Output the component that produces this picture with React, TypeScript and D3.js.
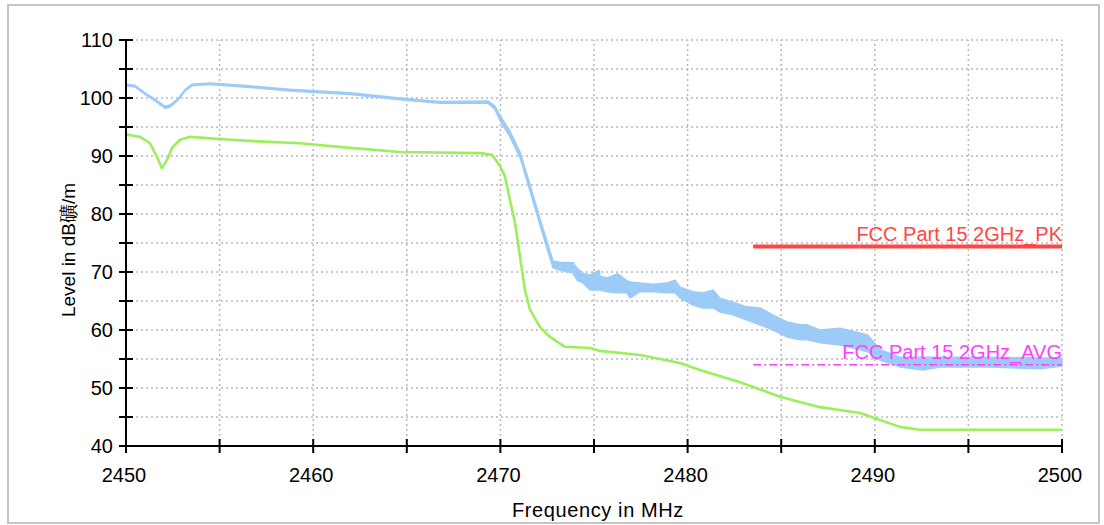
import * as d3 from "d3";
import * as React from "react";

const blueFreq = [
  2450.0, 2450.48, 2451.02, 2451.55, 2452.08, 2452.35, 2452.78, 2453.16,
  2453.53, 2454.49, 2456.62, 2458.76, 2461.97, 2464.64, 2466.77, 2469.34,
  2469.71, 2469.98, 2470.51, 2471.05, 2471.58, 2472.12, 2472.54, 2472.81,
  2473.18, 2473.88, 2474.09, 2474.41, 2474.79, 2475.27, 2475.32, 2475.69,
  2476.28, 2476.76, 2476.92, 2477.46, 2478.15, 2478.9, 2479.33, 2479.59,
  2480.29, 2480.82, 2481.36, 2481.73, 2482.43, 2483.17, 2483.87, 2484.56,
  2485.31, 2486.0, 2486.38, 2487.07, 2488.14, 2489.21, 2489.64, 2490.28,
  2491.35, 2492.58, 2493.48, 2496.15, 2498.83, 2500.0,
];
// peak trace: upper and lower edge of the band (dBuV/m)
const blueHi = [
  102.4, 102.2, 100.9, 99.8, 98.6, 98.8, 99.9, 101.5, 102.4, 102.6, 102.1,
  101.5, 100.9, 100.0, 99.4, 99.5, 98.6, 97.0, 94.3, 90.7, 85.1, 79.2, 74.8,
  71.9, 71.7, 71.6, 70.7, 69.8, 69.5, 70.3, 69.3, 69.0, 69.7, 68.5, 68.3, 68.1,
  67.9, 68.1, 68.6, 67.4, 66.6, 66.4, 66.9, 65.5, 64.8, 64.0, 63.8, 62.6, 61.4,
  60.9, 60.9, 60.0, 60.3, 59.5, 59.1, 56.6, 55.3, 55.3, 55.3, 55.3, 55.2, 55.2,
];
const blueLo = [
  102.1, 101.9, 100.6, 99.5, 98.2, 98.4, 99.6, 101.2, 102.1, 102.3, 101.8,
  101.2, 100.6, 99.7, 99.1, 99.1, 98.0, 96.1, 93.3, 89.7, 83.9, 78.0, 73.5,
  70.7, 70.3, 69.8, 68.6, 68.1, 66.9, 66.9, 66.9, 66.6, 66.4, 66.4, 65.5, 66.6,
  66.6, 66.4, 66.4, 65.5, 64.3, 63.8, 63.8, 63.1, 62.6, 61.7, 60.9, 60.0, 58.8,
  58.3, 58.3, 57.8, 57.4, 56.6, 56.2, 54.8, 53.6, 53.1, 53.6, 53.6, 53.3, 53.8,
];

// average trace
const greenFreq = [
  2450.0, 2450.75, 2451.28, 2451.66, 2451.92, 2452.19, 2452.46, 2452.88,
  2453.42, 2455.56, 2456.62, 2459.29, 2461.97, 2464.64, 2468.91, 2469.55,
  2469.98, 2470.25, 2470.51, 2470.78, 2471.05, 2471.31, 2471.58, 2472.12,
  2472.65, 2473.45, 2474.79, 2475.32, 2477.46, 2479.59, 2480.66, 2482.8,
  2484.94, 2487.07, 2489.21, 2490.28, 2491.35, 2492.41, 2496.69, 2500.0,
];
const greenLevel = [
  93.7, 93.3, 92.2, 89.8, 87.9, 89.3, 91.4, 92.8, 93.3, 92.8, 92.6, 92.2, 91.4,
  90.7, 90.5, 90.2, 88.3, 86.4, 82.4, 78.5, 72.6, 66.9, 63.5, 60.5, 58.8, 57.1,
  56.9, 56.4, 55.7, 54.3, 53.1, 51.0, 48.5, 46.7, 45.7, 44.5, 43.3, 42.8, 42.8,
  42.8,
];

// limit lines
const limitStart = 2483.5;
const limitPK = 74.4;
const limitAVG = 54;
const labelPK = "FCC Part 15 2GHz_PK";
const labelAVG = "FCC Part 15 2GHz_AVG";

const xTicks = d3.range(2450, 2501, 5);
const yTicks = d3.range(40, 111, 5);
const xLabels = [2450, 2460, 2470, 2480, 2490, 2500];
const yLabels = [40, 50, 60, 70, 80, 90, 100, 110];

const FONT = "'Liberation Sans', Arial, Helvetica, sans-serif";

export default function App() {
  const x = d3.scaleLinear().domain([2450, 2500]).range([126, 1062]);
  const y = d3.scaleLinear().domain([40, 110]).range([446, 40]);

  const band = d3
    .area<number>()
    .x((d, i) => x(blueFreq[i]))
    .y0((d, i) => y(blueLo[i]))
    .y1((d, i) => y(blueHi[i]));
  const greenLine = d3
    .line<number>()
    .x((d, i) => x(greenFreq[i]))
    .y((d) => y(d));

  const [x0, x1] = x.range();
  const [yb, yt] = y.range();

  return (
    <div style={{ position: "fixed", left: 0, top: 0 }}>
      <svg width={1104} height={525} style={{ display: "block" }} fontFamily={FONT}>
        <rect x={0} y={0} width={1104} height={525} fill="#fff" />
        <rect x={8} y={5} width={1091} height={518} fill="#fff" stroke="#c4c4c4" strokeWidth={2} />

        {/* grid */}
        <g stroke="#b8b8b8" strokeWidth={1.5} strokeDasharray="2,3">
          {xTicks.slice(1).map((t) => (
            <line key={"gx" + t} x1={x(t)} x2={x(t)} y1={yb} y2={yt} />
          ))}
          {yTicks.slice(1).map((t) => (
            <line key={"gy" + t} x1={x0} x2={x1} y1={y(t)} y2={y(t)} />
          ))}
        </g>

        {/* traces */}
        <path
          d={band(blueHi) || ""}
          fill="#9dcbf7"
          stroke="#9dcbf7"
          strokeWidth={1.4}
          strokeLinejoin="round"
        />
        <path
          d={greenLine(greenLevel) || ""}
          fill="none"
          stroke="#9cee5c"
          strokeWidth={2.6}
          strokeLinejoin="round"
        />

        {/* limits */}
        <line
          x1={x(limitStart)}
          x2={x1}
          y1={y(limitPK)}
          y2={y(limitPK)}
          stroke="#ff4646"
          strokeWidth={4}
        />
        <line
          x1={x(limitStart)}
          x2={x1}
          y1={y(limitAVG)}
          y2={y(limitAVG)}
          stroke="#ff40ff"
          strokeWidth={1.6}
          strokeDasharray="8,3,2,3"
        />
        <text x={x1} y={y(limitPK) - 5} textAnchor="end" fontSize={20} fill="#ff4646">
          {labelPK}
        </text>
        <text x={x1} y={y(limitAVG) - 6} textAnchor="end" fontSize={20} fill="#ff40ff">
          {labelAVG}
        </text>

        {/* axes */}
        <g stroke="#000" strokeWidth={2}>
          <line x1={x0} x2={x0} y1={yt} y2={yb} />
          <line x1={x0} x2={x1} y1={yb} y2={yb} />
          {yTicks.map((t) => (
            <line key={"ty" + t} x1={x0 - 7} x2={x0 + 7} y1={y(t)} y2={y(t)} />
          ))}
          {xTicks.map((t) => (
            <line key={"tx" + t} x1={x(t)} x2={x(t)} y1={yb - 7} y2={yb + 7} />
          ))}
        </g>
        <g fontSize={20} fill="#000">
          {yLabels.map((t) => (
            <text key={"ly" + t} x={x0 - 13} y={y(t)} dy="0.36em" textAnchor="end">
              {t}
            </text>
          ))}
          {xLabels.map((t) => (
            <text key={"lx" + t} x={x(t) - 2} y={482} textAnchor="middle">
              {t}
            </text>
          ))}
        </g>
        <text x={598} y={517} textAnchor="middle" fontSize={20} letterSpacing={0.6}>
          Frequency in MHz
        </text>
        <text transform="translate(75,250) rotate(-90)" textAnchor="middle" fontSize={19}>
          Level in dB礦/m
        </text>
      </svg>
    </div>
  );
}
